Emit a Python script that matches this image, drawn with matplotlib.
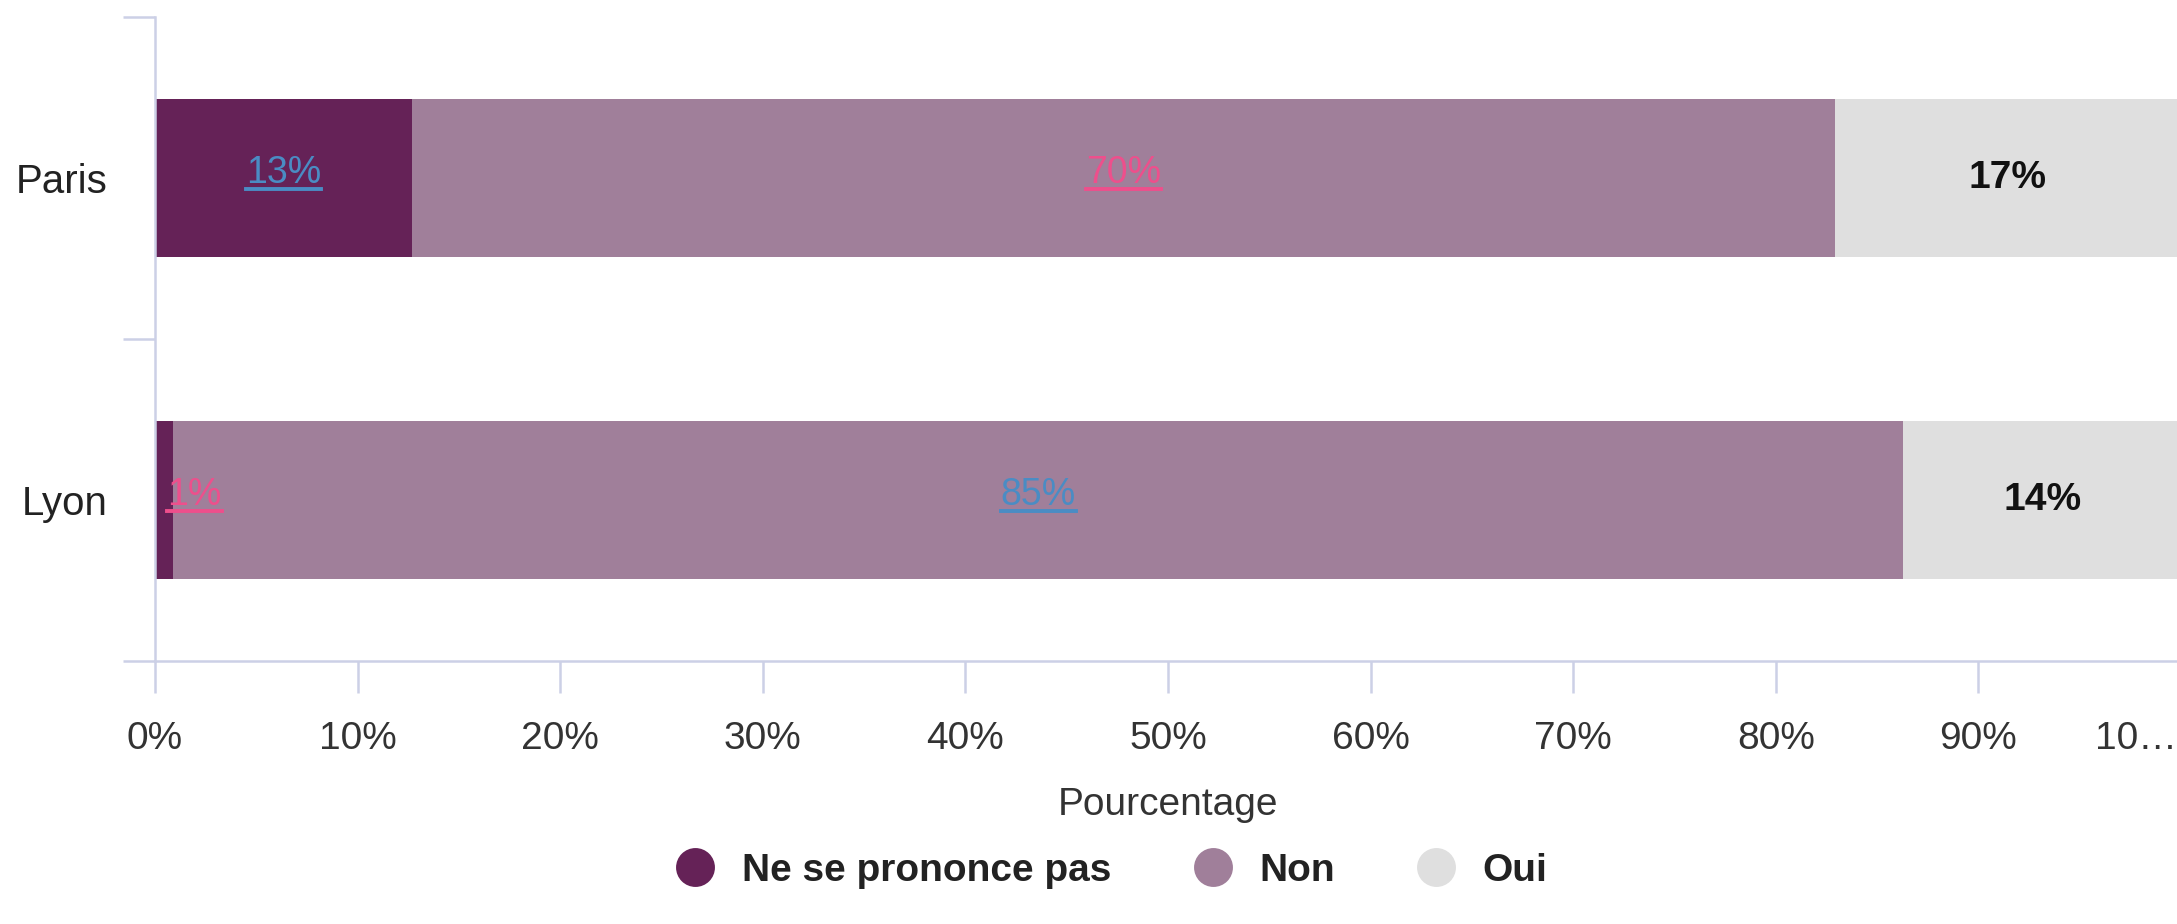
import numpy as np
import matplotlib.pyplot as plt
from matplotlib.lines import Line2D
import matplotlib.transforms as mtransforms

plt.rcParams["font.family"] = ["Liberation Sans", "DejaVu Sans"]

cities = ["Paris", "Lyon"]
series = ["Ne se prononce pas", "Non", "Oui"]
values = {
    "Ne se prononce pas": [12.7, 0.9],
    "Non": [70.2, 85.4],
    "Oui": [17.1, 13.7],
}
labels = {
    "Ne se prononce pas": ["13%", "1%"],
    "Non": ["70%", "85%"],
    "Oui": ["17%", "14%"],
}
colors = ["#652257", "#a07f9a", "#dfdfdf"]
xtick_vals = [0, 10, 20, 30, 40, 50, 60, 70, 80, 90, 100]
xtick_labels = ["0%", "10%", "20%", "30%", "40%", "50%", "60%", "70%", "80%", "90%", "10…"]

# label styles: colour, bold, underlined
label_style = {
    ("Ne se prononce pas", 0): ("#4a8cc4", False, True),
    ("Ne se prononce pas", 1): ("#ee4f8c", False, True),
    ("Non", 0): ("#ee4f8c", False, True),
    ("Non", 1): ("#4a8cc4", False, True),
    ("Oui", 0): ("#111111", True, False),
    ("Oui", 1): ("#111111", True, False),
}

axis_color = "#ccd0e6"
text_color = "#333333"

fig = plt.figure(figsize=(10.885, 4.62), dpi=200)
ax = fig.add_axes([155 / 2177, 1 - 661 / 924, 2026 / 2177, 644 / 924])

y = np.arange(len(cities))
left = np.zeros(len(cities))
texts = []
for s, c in zip(series, colors):
    v = np.array(values[s])
    ax.barh(y, v, left=left, height=0.49, color=c, edgecolor="none", zorder=2)
    for i in range(len(cities)):
        col, bold, under = label_style[(s, i)]
        cx = left[i] + v[i] / 2
        ha = "center"
        if v[i] < 3:
            cx = 0.6
            ha = "left"
        # underlined labels sit a little higher in the bar
        cy = y[i] - 0.016 if under else y[i]
        t = ax.text(cx, cy, labels[s][i], ha=ha, va="center",
                    fontsize=13.5 if under else 14,
                    color=col, fontweight="bold" if bold else "normal", zorder=3)
        if under:
            texts.append((t, col))
    left = left + v

ax.set_xlim(0, 100)
ax.set_ylim(1.5, -0.5)

for sp in ["top", "right"]:
    ax.spines[sp].set_visible(False)
for sp in ["left", "bottom"]:
    ax.spines[sp].set_color(axis_color)
    ax.spines[sp].set_linewidth(0.9)

ax.set_xticks(xtick_vals)
ax.set_xticklabels(xtick_labels, fontsize=14, color=text_color)
ax.tick_params(axis="x", length=11.5, width=0.9, color=axis_color, pad=10)
last = ax.get_xticklabels()[-1]
last.set_horizontalalignment("right")
last.set_transform(last.get_transform() + mtransforms.ScaledTranslation(-4 / 200, 0, fig.dpi_scale_trans))

ax.set_yticks([-0.5, 0.5, 1.5])
ax.set_yticklabels([])
ax.set_yticks(y, minor=True)
ax.set_yticklabels(cities, minor=True, fontsize=14.5, color="#222222")
ax.tick_params(axis="y", which="major", length=11.5, width=0.9, color=axis_color)
ax.tick_params(axis="y", which="minor", length=0, pad=17)

ax.set_xlabel("Pourcentage", fontsize=14, color=text_color, labelpad=11)

handles = [Line2D([], [], marker="o", linestyle="none", markersize=13,
                  markerfacecolor=c, markeredgecolor=c) for c in colors]
fig.legend(handles, series, loc="lower center", bbox_to_anchor=(1102 / 2177, 0.0),
           ncol=3, frameon=False, prop={"size": 14, "weight": "bold"},
           handletextpad=0.2, columnspacing=1.6, labelcolor="#222222")

# underline the link-styled labels
fig.canvas.draw()
renderer = fig.canvas.get_renderer()
inv = fig.transFigure.inverted()
for t, col in texts:
    bb = t.get_window_extent(renderer)
    x0, y0 = inv.transform((bb.x0, bb.y0 + 2))
    x1, _ = inv.transform((bb.x1, bb.y0 + 2))
    fig.add_artist(Line2D([x0, x1], [y0, y0], transform=fig.transFigure,
                          color=col, linewidth=1.4, zorder=4))

fig.savefig("out.png", dpi=200, facecolor="white")
